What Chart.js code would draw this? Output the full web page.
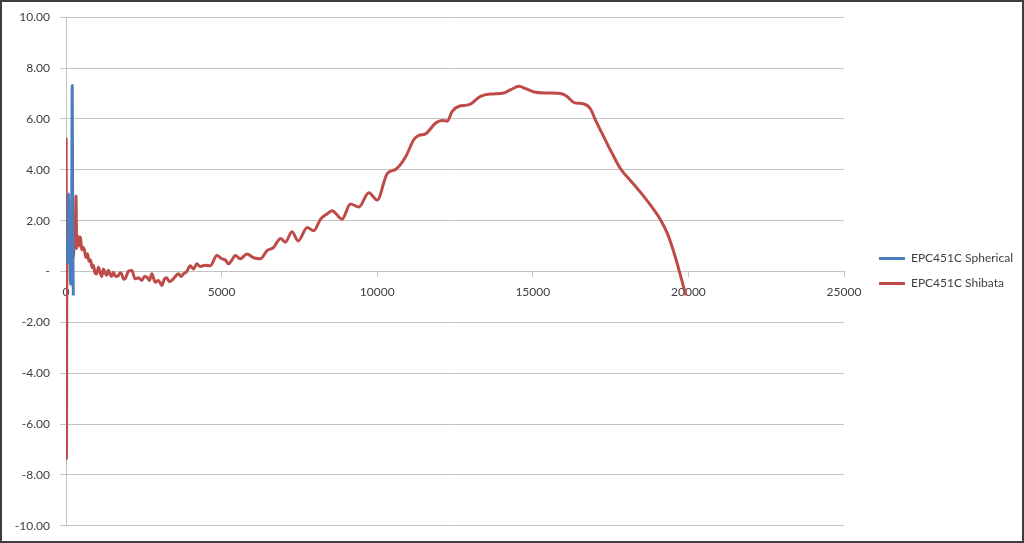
<!DOCTYPE html>
<html>
<head>
<meta charset="utf-8">
<title>EPC451C</title>
<script src="https://cdn.jsdelivr.net/npm/chart.js@4.4.1/dist/chart.umd.min.js"></script>
<style>
  html, body { margin: 0; padding: 0; background: #fff; }
  canvas { display: block; }
</style>
</head>
<body>
<canvas id="freqChart" width="1024" height="543"></canvas>
<script>
// Series labels
const seriesNames = ['EPC451C Spherical', 'EPC451C Shibata'];

// Spherical (blue) - only a short burst near the origin
const blueX = [20, 40, 60, 80, 100, 120, 140, 160, 180, 200, 215, 235];
const blueY = [0.3, 1.2, 0.6, 3.05, 0.4, 1.3, -0.3, -0.5, 1.0, 7.3, 2.0, -0.94];

// Shibata (red)
const redX = [
  5, 15, 30, 45, 60, 75, 95, 115, 135, 155, 175, 195, 215, 240, 265, 290, 320, 345, 375, 410,
  440, 470, 500, 540, 590, 640, 690, 740, 790, 840, 880, 930, 985, 1040, 1094, 1150, 1200, 1255, 1310, 1360,
  1416, 1470, 1523, 1600, 1683, 1740, 1790, 1850, 1900, 2000, 2115, 2220, 2330, 2436, 2520, 2597, 2680, 2758, 2864, 2970,
  3080, 3160, 3240, 3320, 3400, 3510, 3614, 3700, 3776, 3880, 3990, 4098, 4205, 4313, 4470, 4635, 4850, 5010, 5120, 5224,
  5330, 5440, 5600, 5815, 6030, 6244, 6460, 6672, 6780, 6890, 7050, 7260, 7460, 7750, 7960, 8180, 8370, 8550, 8870, 9140,
  9410, 9730, 10000, 10320, 10600, 10910, 11180, 11340, 11550, 11880, 12090, 12250, 12410, 12630, 12950, 13320, 13650, 14070, 14290, 14560,
  14770, 15040, 15470, 15950, 16110, 16350, 16620, 16850, 17030, 17190, 17510, 17830, 18150, 18470, 18800, 19120, 19330, 19550, 19760, 19920
];
const redY = [
  5.26, -7.36, 1.2, 0.3, 1.3, 0.4, 1.2, 0.6, 1.4, 0.5, 1.3, 0.7, 1.4, 0.6, 1.3, 1.0, 2.97, 0.9, 1.4, 1.3,
  1.0, 1.35, 0.85, 0.95, 0.85, 0.55, 0.7, 0.4, 0.45, 0.15, 0.25, -0.05, -0.1, 0.17, -0.03, -0.2, 0.1, -0.05, -0.15, 0.05,
  -0.1, -0.2, -0.03, -0.2, -0.16, -0.05, -0.1, -0.3, -0.29, 0.0, 0.04, -0.29, -0.25, -0.35, -0.2, -0.22, -0.35, -0.09, -0.42, -0.35,
  -0.55, -0.3, -0.25, -0.4, -0.35, -0.2, -0.09, -0.2, -0.09, 0.0, 0.23, 0.1, 0.3, 0.2, 0.25, 0.23, 0.63, 0.5, 0.45, 0.3,
  0.45, 0.63, 0.5, 0.69, 0.54, 0.5, 0.82, 0.95, 1.15, 1.3, 1.15, 1.56, 1.2, 1.73, 1.6, 2.06, 2.25, 2.39, 2.06, 2.65,
  2.54, 3.1, 2.81, 3.85, 4.02, 4.5, 5.19, 5.35, 5.41, 5.84, 5.94, 5.91, 6.3, 6.5, 6.56, 6.89, 6.98, 7.02, 7.15, 7.28,
  7.19, 7.06, 7.02, 6.98, 6.87, 6.63, 6.6, 6.4, 5.91, 5.52, 4.74, 4.02, 3.56, 3.1, 2.58, 2.0, 1.48, 0.69, -0.22, -0.94
];

// Axis settings
const xMin = 0, xMax = 25000, xStep = 5000;
const yMin = -10, yMax = 10, yStep = 2;

const textColor = '#404040';
const gridColor = '#c3c3c3';
const fontFamily = 'Lato, "Open Sans", sans-serif';

function toPoints(xs, ys) {
  return xs.map((x, i) => ({ x: x, y: ys[i] }));
}

// Measure the legend so the gap between plot and legend matches
const measure = document.createElement('canvas').getContext('2d');
measure.font = '12px ' + fontFamily;
const textW = Math.max(...seriesNames.map(s => measure.measureText(s).width));
const legendW = 13 + 26 + 6 + textW;
const gapW = Math.max(0, 1024 - 12 - legendW - 843);

// Outer frame around the picture
const framePlugin = {
  id: 'frame',
  afterDraw(chart) {
    const c = chart.ctx;
    c.save();
    c.strokeStyle = '#3f3f3f';
    c.lineWidth = 2;
    c.strokeRect(1, 1, chart.width - 2, chart.height - 2);
    c.restore();
  }
};

const ctx = document.getElementById('freqChart').getContext('2d');

new Chart(ctx, {
  type: 'line',
  data: {
    datasets: [
      {
        label: seriesNames[0],
        data: toPoints(blueX, blueY),
        borderColor: '#4a7ebb',
        backgroundColor: '#4a7ebb',
        borderWidth: 3,
        pointRadius: 0,
        cubicInterpolationMode: 'monotone',
        fill: false,
      },
      {
        label: seriesNames[1],
        data: toPoints(redX, redY),
        borderColor: '#be4b48',
        backgroundColor: '#be4b48',
        borderWidth: 3,
        pointRadius: 0,
        cubicInterpolationMode: 'monotone',
        fill: false,
      },
    ],
  },
  options: {
    responsive: false,
    animation: false,
    devicePixelRatio: 1,
    layout: {
      padding: { left: 6, top: 15, bottom: 16, right: 1 },
    },
    plugins: {
      tooltip: { enabled: false },
      legend: {
        position: 'right',
        labels: {
          color: textColor,
          font: { size: 12, family: fontFamily },
          usePointStyle: true,
          pointStyle: 'line',
          pointStyleWidth: 26,
          boxHeight: 12,
          padding: 13,
        },
      },
    },
    scales: {
      x: {
        type: 'linear',
        position: { y: 0 },
        min: xMin,
        max: xMax,
        ticks: {
          stepSize: xStep,
          color: textColor,
          padding: 8,
          maxRotation: 0,
          font: { size: 12, family: fontFamily },
          callback: (v) => String(v),
        },
        grid: {
          drawOnChartArea: false,
          drawTicks: true,
          tickLength: 5,
          color: gridColor,
        },
        border: { color: gridColor },
      },
      y: {
        type: 'linear',
        position: 'left',
        min: yMin,
        max: yMax,
        afterFit: (s) => { s.width = 60; },
        ticks: {
          stepSize: yStep,
          color: textColor,
          padding: 10,
          font: { size: 12, family: fontFamily },
          callback: (v) => (v === 0 ? '-' : v.toFixed(2)),
        },
        grid: {
          color: gridColor,
          tickLength: 6,
        },
        border: { color: gridColor },
      },
      gap: {
        type: 'linear',
        position: 'right',
        afterFit: (s) => { s.width = gapW; },
        ticks: { display: false },
        grid: { display: false },
        border: { display: false },
      },
    },
  },
  plugins: [framePlugin],
});
</script>
</body>
</html>
